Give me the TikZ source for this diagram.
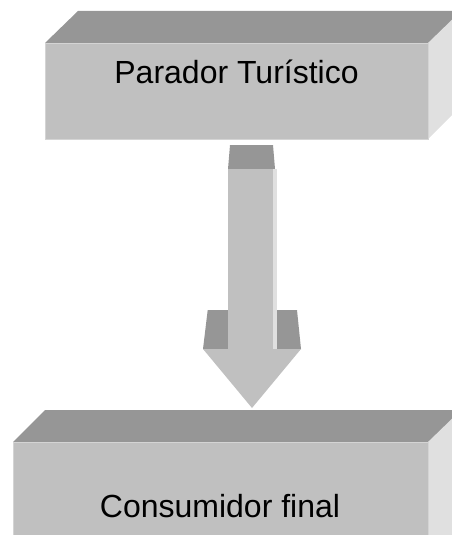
\documentclass[tikz,border=0pt]{standalone}
\usepackage{fontspec}
\setmainfont{Liberation Sans}
\definecolor{frontgray}{HTML}{C0C0C0}
\definecolor{topgray}{HTML}{969696}
\definecolor{sidegray}{HTML}{E0E0E0}
\definecolor{edgegray}{HTML}{D4D4D4}
\tikzset{
  front/.style={fill=frontgray, draw=edgegray, line width=0.8pt},
  topface/.style={fill=topgray, draw=none},
  sideface/.style={fill=sidegray, draw=none},
  arrowlight/.style={fill=frontgray, draw=none},
  arrowdark/.style={fill=topgray, draw=none},
  arrowedge/.style={fill=sidegray, draw=none},
  label/.style={font=\fontsize{32}{36}\selectfont, anchor=base, inner sep=0pt}
}
\begin{document}
\begin{tikzpicture}[x=1pt,y=-1pt]
\useasboundingbox (0,0) rectangle (452,535);
\clip (0,0) rectangle (452,535);
% top box
\fill[topface] (45,43) -- (78,11) -- (470,11) -- (428,43) -- cycle;
\fill[sideface] (428,43) -- (461,11) -- (461,106) -- (428,139) -- cycle;
\node[front, minimum width=383pt, minimum height=96pt, inner sep=0pt, anchor=north west] (box1) at (45,43) {};
\node[label] (t1) at (236.5,83) {Parador Turístico};
% bottom box
\fill[topface] (13,442) -- (45,410) -- (470,410) -- (428,442) -- cycle;
\fill[sideface] (428,442) -- (461,410) -- (461,560) -- (428,560) -- cycle;
\node[front, minimum width=415pt, minimum height=110pt, inner sep=0pt, anchor=north west] (box2) at (13,442) {};
\node[label] (t2) at (220,517) {Consumidor final};
% arrow
\fill[arrowdark] (230,145) -- (273,145) -- (275,169) -- (228,169) -- cycle;
\fill[arrowdark] (207.7,310) -- (228,310) -- (228,349) -- (203,349) -- cycle;
\fill[arrowdark] (277,310) -- (297,310) -- (301,349) -- (277,349) -- cycle;
\fill[arrowlight] (228,169) rectangle (273,350);
\fill[arrowedge] (273,169) rectangle (277,350);
\fill[arrowlight] (203,349) -- (301,349) -- (252,408) -- cycle;
\end{tikzpicture}
\end{document}
